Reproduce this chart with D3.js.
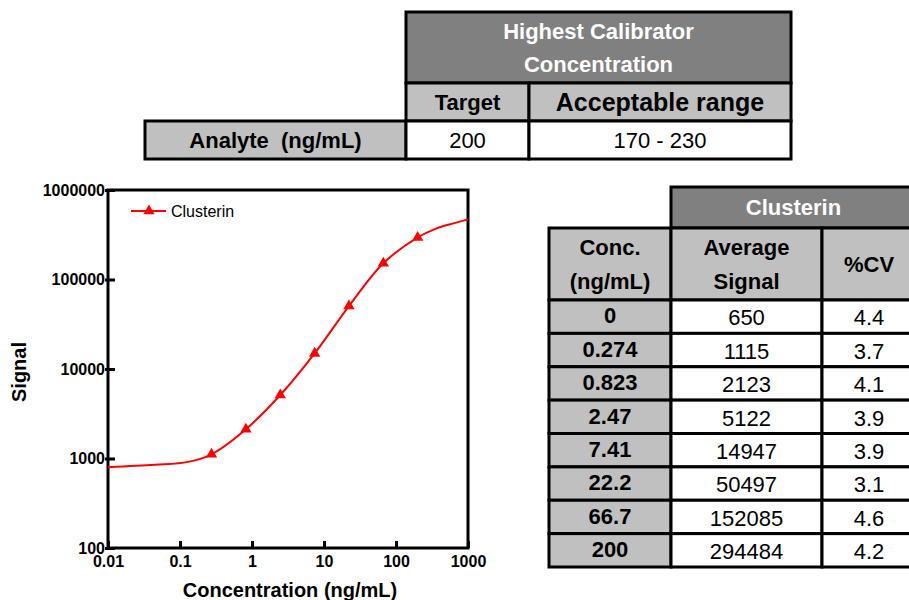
<!DOCTYPE html>
<html>
<head>
<meta charset="utf-8">
<script src="https://cdn.jsdelivr.net/npm/d3@7"></script>
<style>
  body { margin: 0; background: #fff; }
  svg text { font-family: "Liberation Sans", Arial, sans-serif; }
</style>
</head>
<body>
<div id="chart"></div>
<script>
// calibrator data
const concLabels = ["0", "0.274", "0.823", "2.47", "7.41", "22.2", "66.7", "200"];
const concValues = [0, 0.274, 0.823, 2.47, 7.41, 22.2, 66.7, 200];
const avgSignal = [650, 1115, 2123, 5122, 14947, 50497, 152085, 294484];
const cvPct = ["4.4", "3.7", "4.1", "3.9", "3.9", "3.1", "4.6", "4.2"];

// fitted curve, points
const fitConc = [0.01, 0.045, 0.13, 0.274, 0.823, 2.47, 7.41, 22.2, 66.7, 200, 367, 627, 1000];
const fitSignal = [800, 849, 917, 1115, 2123, 5122, 14947, 50497, 152085, 294484, 372000, 424000, 470000];

const xTicks = [0.01, 0.1, 1, 10, 100, 1000];
const yTicks = [100, 1000, 10000, 100000, 1000000];

// highest calibrator table
const calibAnalyte = "Analyte  (ng/mL)";
const calibTarget = "200";
const calibRange = "170 - 230";

const W = 909, H = 600;
const darkGray = "#808080", lightGray = "#c0c0c0";

const svg = d3.select("#chart").append("svg")
    .attr("width", W)
    .attr("height", H);

// ---- chart ----
const plot = { left: 108, right: 468, top: 190, bottom: 548 };

const x = d3.scaleLog().domain([0.01, 1000]).range([plot.left, plot.right]);
const y = d3.scaleLog().domain([100, 1000000]).range([plot.bottom, plot.top]);

const xAxis = d3.axisBottom(x).tickValues(xTicks).tickFormat(d => String(d))
    .tickSizeInner(-7).tickSizeOuter(0).tickPadding(8);
const yAxis = d3.axisLeft(y).tickValues(yTicks).tickFormat(d => String(d))
    .tickSizeInner(-7).tickSizeOuter(0).tickPadding(3);

const gx = svg.append("g")
    .attr("transform", `translate(0, ${plot.bottom})`)
    .call(xAxis);
const gy = svg.append("g")
    .attr("transform", `translate(${plot.left}, 0)`)
    .call(yAxis);

[gx, gy].forEach(g => {
    g.select(".domain").remove();
    g.selectAll(".tick line").attr("stroke", "#000").attr("stroke-width", 3);
    g.selectAll(".tick text")
        .attr("fill", "#000")
        .attr("font-size", "16px")
        .attr("font-weight", "bold")
        .style("font-family", "'Liberation Sans', Arial, sans-serif");
});
// y ticks poke a little outside the frame too
gy.selectAll(".tick line").attr("x1", -3);

svg.append("rect")
    .attr("x", plot.left)
    .attr("y", plot.top)
    .attr("width", plot.right - plot.left)
    .attr("height", plot.bottom - plot.top)
    .attr("fill", "none")
    .attr("stroke", "#000")
    .attr("stroke-width", 3);

const line = d3.line()
    .x(d => x(d[0]))
    .y(d => y(d[1]))
    .curve(d3.curveCatmullRom.alpha(0.5));

svg.append("path")
    .datum(fitConc.map((c, i) => [c, fitSignal[i]]))
    .attr("d", line)
    .attr("fill", "none")
    .attr("stroke", "#ff0000")
    .attr("stroke-width", 2);

const tri = d3.symbol().type(d3.symbolTriangle).size(55);

svg.selectAll(".pt")
    .data(concValues.map((c, i) => [c, avgSignal[i]]).filter(d => d[0] > 0))
    .join("path")
    .attr("class", "pt")
    .attr("d", tri)
    .attr("transform", d => `translate(${x(d[0])}, ${y(d[1])})`)
    .attr("fill", "#ff0000");

// legend
const leg = svg.append("g").attr("transform", "translate(131, 211)");
leg.append("line").attr("x1", 0).attr("x2", 35)
    .attr("stroke", "#ff0000").attr("stroke-width", 2);
leg.append("path").attr("d", tri).attr("transform", "translate(18, 0)").attr("fill", "#ff0000");
leg.append("text").attr("x", 40).attr("dy", "0.35em")
    .attr("font-size", "16px").text("Clusterin");

// axis titles
svg.append("text")
    .attr("x", 290).attr("y", 597)
    .attr("text-anchor", "middle")
    .attr("font-size", "20px").attr("font-weight", "bold")
    .text("Concentration (ng/mL)");

svg.append("text")
    .attr("transform", "translate(26, 372) rotate(-90)")
    .attr("text-anchor", "middle")
    .attr("font-size", "20px").attr("font-weight", "bold")
    .text("Signal");

// ---- tables ----
function cell(x0, y0, w, h, fill, lines, opts = {}) {
    const g = svg.append("g");
    g.append("rect")
        .attr("x", x0).attr("y", y0).attr("width", w).attr("height", h)
        .attr("fill", fill).attr("stroke", "#000").attr("stroke-width", 3);
    const lh = opts.lineHeight || 34;
    const cy = y0 + h / 2 + (opts.dyCenter || 0);
    lines.forEach((t, i) => {
        g.append("text")
            .attr("x", x0 + w / 2)
            .attr("y", cy + (i - (lines.length - 1) / 2) * lh)
            .attr("dy", "0.35em")
            .attr("text-anchor", "middle")
            .attr("font-size", (opts.size || 22) + "px")
            .attr("font-weight", opts.bold ? "bold" : "normal")
            .attr("fill", opts.color || "#000")
            .style("white-space", "pre")
            .text(t);
    });
}

// top table
cell(406, 12, 385, 71, darkGray, ["Highest Calibrator", "Concentration"],
    { bold: true, color: "#fff", size: 22, lineHeight: 33 });
cell(406, 83, 123, 38, lightGray, ["Target"], { bold: true, size: 22 });
cell(529, 83, 262, 38, lightGray, ["Acceptable range"], { bold: true, size: 25 });
cell(145, 121, 261, 38, lightGray, [calibAnalyte], { bold: true, size: 22 });
cell(406, 121, 123, 38, "#fff", [calibTarget], { size: 22 });
cell(529, 121, 262, 38, "#fff", [calibRange], { size: 22 });

// right table
const tx = [549, 671, 822, 916];
cell(tx[1], 187, tx[3] - tx[1], 41, darkGray, ["Clusterin"], { bold: true, color: "#fff", size: 22 });
cell(tx[0], 228, tx[1] - tx[0], 72, lightGray, ["Conc.", "(ng/mL)"], { bold: true, size: 22 });
cell(tx[1], 228, tx[2] - tx[1], 72, lightGray, ["Average", "Signal"], { bold: true, size: 22 });
cell(tx[2], 228, tx[3] - tx[2], 72, lightGray, ["%CV"], { bold: true, size: 22 });

const rowTop = 300, rowH = (567 - 300) / concLabels.length;
concLabels.forEach((c, i) => {
    const ry = rowTop + i * rowH;
    cell(tx[0], ry, tx[1] - tx[0], rowH, lightGray, [c], { bold: true, size: 22, dyCenter: -1 });
    cell(tx[1], ry, tx[2] - tx[1], rowH, "#fff", [String(avgSignal[i])], { size: 22, dyCenter: 1 });
    cell(tx[2], ry, tx[3] - tx[2], rowH, "#fff", [cvPct[i]], { size: 22, dyCenter: 1 });
});
</script>
</body>
</html>
